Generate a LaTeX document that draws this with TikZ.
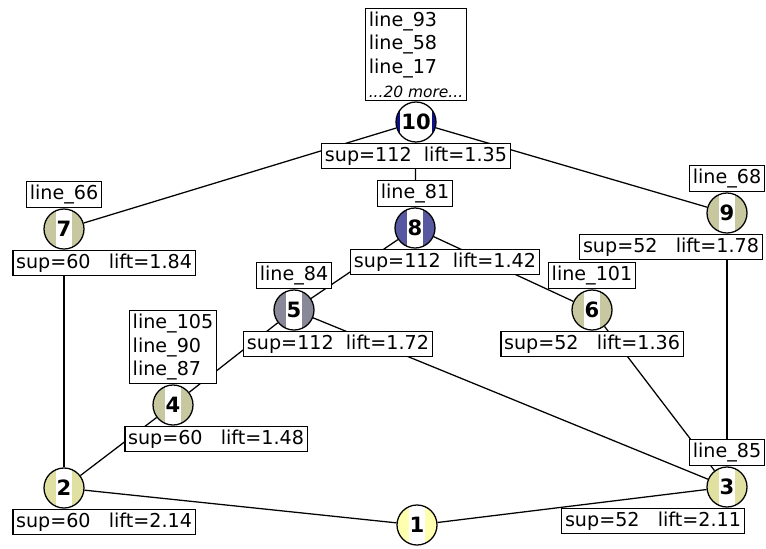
\documentclass[tikz,border=0pt]{standalone}
\usepackage{fontspec}
\setmainfont{DejaVu Sans}
\usetikzlibrary{positioning,backgrounds}
\definecolor{navyc}{RGB}{16,16,136}
\definecolor{slatec}{RGB}{88,88,160}
\definecolor{greyc}{RGB}{136,136,152}
\definecolor{khakic}{RGB}{200,200,160}
\definecolor{palec}{RGB}{224,224,160}
\definecolor{lightc}{RGB}{255,255,176}
\tikzset{
  concept/.style 2 args={circle, draw, line width=0.9pt, fill=#1, minimum size=1cm, inner sep=0pt,
    path picture={\node[rectangle, draw=none, fill=white, path picture={}, inner sep=0pt, inner xsep=0.8pt,
      minimum width=0pt, minimum height=1.2cm, font=\fontsize{15}{15}\selectfont\bfseries]
      at (path picture bounding box.center) {#2};}},
  info/.style={draw, fill=white, line width=0.8pt, inner xsep=2.2pt, inner ysep=2.5pt,
    align=left, font=\fontsize{13.6}{16.8}\selectfont},
  edge/.style={line width=0.9pt}
}
\begin{document}
\begin{tikzpicture}[x=0.025cm, y=-0.025cm, node distance=0pt]
  \useasboundingbox (0,0) rectangle (766,548);
  % concepts
  \node[concept={navyc}{10}]  (n10) at (416,122) {};
  \node[concept={slatec}{8}]  (n8)  at (415,228) {};
  \node[concept={greyc}{5}]   (n5)  at (294,310) {};
  \node[concept={khakic}{4}]  (n4)  at (173,405) {};
  \node[concept={khakic}{7}]  (n7)  at (64,229) {};
  \node[concept={khakic}{9}]  (n9)  at (727,213) {};
  \node[concept={khakic}{6}]  (n6)  at (592,310) {};
  \node[concept={palec}{3}]   (n3)  at (727,487) {};
  \node[concept={palec}{2}]   (n2)  at (64,488) {};
  \node[concept={lightc}{1}]  (n1)  at (417,525) {};
  % objects
  \node[info, above=of n10] (obj10) {line\_93\\line\_58\\line\_17\\{\fontsize{11}{13}\selectfont\itshape ...20 more...}};
  \node[info, above=of n8]  (obj8)  {line\_81};
  \node[info, above=of n5]  (obj5)  {line\_84};
  \node[info, above=of n4]  (obj4)  {line\_105\\line\_90\\line\_87};
  \node[info, above=of n7]  (obj7)  {line\_66};
  \node[info, above=of n9]  (obj9)  {line\_68};
  \node[info, above=of n6]  (obj6)  {line\_101};
  \node[info, above=of n3]  (obj3)  {line\_85};
  % support and lift
  \node[info, below=of n10] (sup10) {sup=112\ \ lift=1.35};
  \node[info, below=of n8, xshift=0.75cm]  (sup8) {sup=112\ \ lift=1.42};
  \node[info, below=of n5, xshift=1.1cm]   (sup5) {sup=112\ \ lift=1.72};
  \node[info, below=of n4, xshift=1.075cm] (sup4) {sup=60\ \ \ lift=1.48};
  \node[info, below=of n7, xshift=1cm]     (sup7) {sup=60\ \ \ lift=1.84};
  \node[info, below=of n9, xshift=-1.4cm]  (sup9) {sup=52\ \ \ lift=1.78};
  \node[info, below=of n6]                 (sup6) {sup=52\ \ \ lift=1.36};
  \node[info, below=of n3, xshift=-1.85cm] (sup3) {sup=52\ \ \ lift=2.11};
  \node[info, below=of n2, xshift=1cm]     (sup2) {sup=60\ \ \ lift=2.14};
  % lattice
  \begin{scope}[on background layer]
    \draw[edge] (n10) -- (n7) (n10) -- (n8) (n10) -- (n9);
    \draw[edge] (n8) -- (n5) (n8) -- (n6);
    \draw[edge] (n7) -- (n2) (n9) -- (n3);
    \draw[edge] (n5) -- (n4) (n5) -- (n3) (n6) -- (n3);
    \draw[edge] (n4) -- (n2) (n2) -- (n1) (n3) -- (n1);
  \end{scope}
\end{tikzpicture}
\end{document}
